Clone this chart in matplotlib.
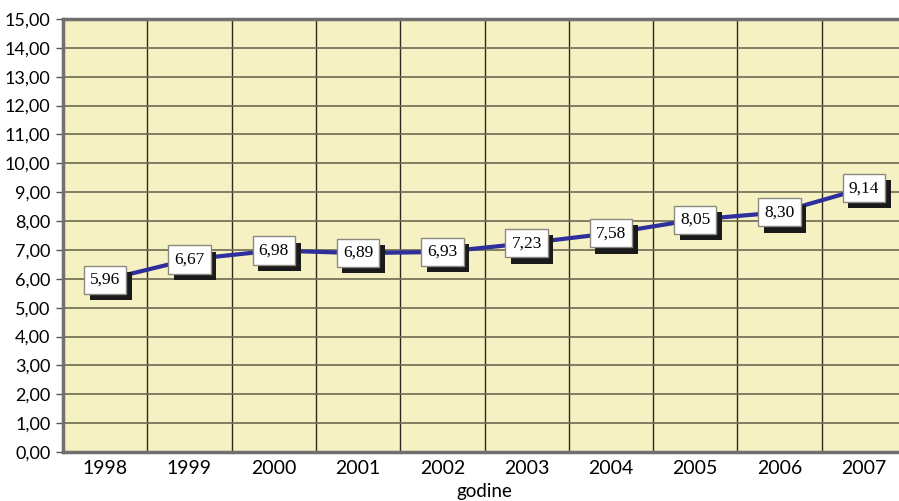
import numpy as np
import matplotlib.pyplot as plt
import matplotlib.patheffects as pe

# values
years = ['1998', '1999', '2000', '2001', '2002', '2003', '2004', '2005', '2006', '2007']
values = [5.96, 6.67, 6.98, 6.89, 6.93, 7.23, 7.58, 8.05, 8.30, 9.14]
y_ticks = np.arange(0, 16, 1)

fig = plt.figure(figsize=(8.99, 5.01), dpi=100)
# plot area runs a bit past the right edge, like in the original
ax = fig.add_axes([63 / 899, 1 - 452 / 501, 843 / 899, 433 / 501])
ax.set_facecolor('#F6F1C3')

x = np.arange(len(years))
ax.set_xlim(-0.5, len(years) - 0.5)
ax.set_ylim(0, 15)

# grid
for b in np.arange(0.5, len(years) - 0.5, 1):
    ax.axvline(b, color='#2b2b22', lw=1.0, zorder=1)
for t in y_ticks[1:-1]:
    ax.axhline(t, color='#6e6a52', lw=1.2, zorder=1)

ax.plot(x, values, color='#2E2E9C', lw=3, zorder=3)

# value boxes with black drop shadow
for xi, v in zip(x, values):
    lab = f'{v:.2f}'.replace('.', ',')
    t = ax.annotate(lab, (xi, v), ha='center', va='center', fontsize=12.5,
                    family='Liberation Serif', color='black',
                    bbox=dict(boxstyle='square,pad=0.35', fc='white', ec='#8a8a80', lw=1),
                    zorder=5)
    t.get_bbox_patch().set_path_effects([
        pe.SimplePatchShadow(offset=(4, -4.5), shadow_rgbFace='#1a1a1a', alpha=1),
        pe.Normal()])

ax.set_xticks(x)
ax.set_xticklabels(years, family='Lato', fontsize=14)
ax.set_yticks(y_ticks)
ax.set_yticklabels([f'{t:.2f}'.replace('.', ',') for t in y_ticks], family='Lato', fontsize=13)
ax.tick_params(axis='x', length=0, pad=6)
ax.tick_params(axis='y', length=5, width=1, color='#555555', pad=4)

for s in ['left', 'bottom', 'top']:
    ax.spines[s].set_color('#707070')
    ax.spines[s].set_linewidth(2.5)
ax.spines['right'].set_visible(False)

ax.set_xlabel('godine', family='Lato', fontsize=13.5, labelpad=4)

fig.savefig('out.png', dpi=100)
